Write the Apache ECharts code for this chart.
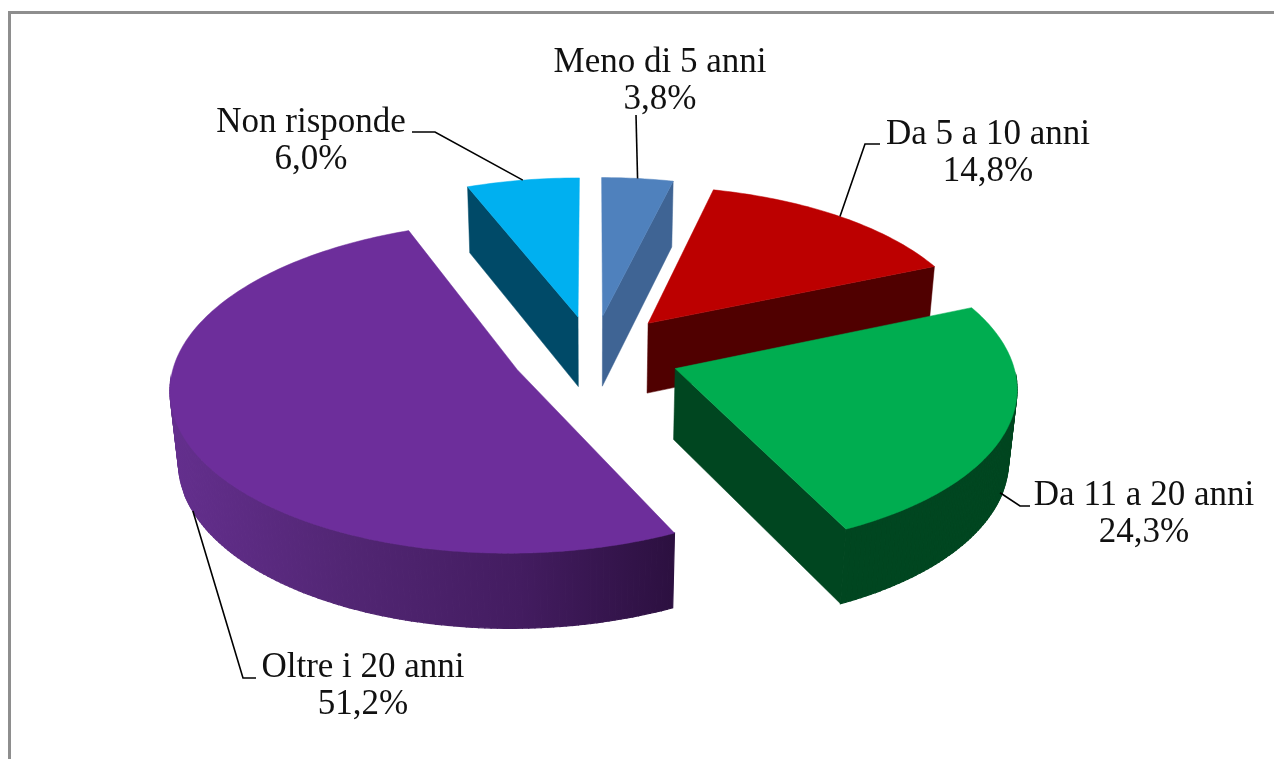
<!DOCTYPE html>
<html><head><meta charset="utf-8">
<style>html,body{margin:0;padding:0;background:#fff}#c{width:1274px;height:759px}</style>
<script src="https://cdn.jsdelivr.net/npm/echarts@6/dist/echarts.min.js"></script>
</head><body><div id="c"></div>
<script>
// Data, clockwise from 12 o'clock
const categories = ['Meno di 5 anni','Da 5 a 10 anni','Da 11 a 20 anni','Oltre i 20 anni','Non risponde'];
const values = [3.8,14.8,24.3,51.2,6.0];
const valueLabels = ['3,8%','14,8%','24,3%','51,2%','6,0%'];

// Styling
const topColors = ['#4f81bd','#bc0000','#00ad50','#6d2e9b','#00b0f0'];
const cutColors = ['#3f6494','#500000','#004620','#2c1040','#004a68'];
const paintOrder = [4,0,1,3,2];
const visibleCut = ['end','end','end',null,'start'];

// Layout: projection of the tilted, exploded disc
const P = {cx:593, cy:354, rx:341, ry:160.9, k:0.1045, m:0.02, h:72};
const explodeBy = [0.24,0.255,0.255,0.24,0.24];
const radiusBy = [1,0.975,0.985,1,1];
const FONT = '"Liberation Serif", serif', FS = 35;
const labelAt = [[660,45],[988,117],[1144,478],[363,650],[311,105]];
const leaderDepth = [0,0,0.9,1,0];
const leaderElbows = [[[636,115]],[[865,144],[880,144]],[[1020,506],[1030,506]],[[243,678],[256,678]],[[435,132],[412,132]]];

const total = values.reduce((a,b)=>a+b,0);
const starts = []; values.reduce((a,v,i)=>{starts[i]=a/total*2*Math.PI;return a+v;},0);

function proj(X,Y,z){
  const w = 1 + P.k*Y + P.m*z;
  return [P.cx + P.rx*X/w, P.cy - (P.ry*Y - P.h*z)/w];
}
function renderItem(params, api){
  const i = params.dataIndex, v = api.value(0);
  const a0 = starts[i], a1 = a0 + v/total*2*Math.PI, mid = (a0+a1)/2;
  const ox = explodeBy[i]*Math.sin(mid), oy = explodeBy[i]*Math.cos(mid), R = radiusBy[i];
  const pt = (a,z,r=R)=>proj(ox+r*Math.sin(a), oy+r*Math.cos(a), z);
  const n = Math.max(8,Math.ceil((a1-a0)*60));
  const angles = []; for(let j=0;j<=n;j++) angles.push(a0+(a1-a0)*j/n);
  const order = paintOrder.indexOf(i)*10;
  const poly = (points,fill,z2,lw)=>({type:'polygon',shape:{points},style:{fill,stroke:fill,lineWidth:lw||0.5},z2:order+z2});
  const children = [];
  const apexTop = pt(0,0,0), apexBot = pt(0,1,0);
  // visible radial cut face
  if(visibleCut[i]){
    const a = visibleCut[i]==='start' ? a0 : a1;
    children.push(poly([apexTop,pt(a,0),pt(a,1),apexBot],cutColors[i],0));
  }
  // rim: only the part of the arc that faces the viewer
  let rimFill = cutColors[i];
  if(i===3){
    rimFill = new echarts.graphic.LinearGradient(168,0,672,0,[
      {offset:0,color:'#642f8e'},{offset:0.35,color:'#522674'},{offset:0.7,color:'#431c60'},{offset:1,color:'#2c1040'}],true);
  }
  for(let j=0;j<n;j++){
    if(Math.cos(angles[j])>-0.06 && Math.cos(angles[j+1])>-0.06) continue;
    children.push(poly([pt(angles[j],0),pt(angles[j+1],0),pt(angles[j+1],1),pt(angles[j],1)],rimFill,2,1.2));
  }
  // top face
  children.push(poly([apexTop].concat(angles.map(a=>pt(a,0))),topColors[i],3));
  // leader and label
  const anchor = pt(mid,leaderDepth[i]);
  children.push({type:'polyline',shape:{points:[anchor].concat(leaderElbows[i])},style:{stroke:'#000',lineWidth:1.6,fill:null},z2:100});
  children.push({type:'text',style:{x:labelAt[i][0],y:labelAt[i][1],text:categories[i]+'\n'+valueLabels[i],
    font:FS+'px '+FONT,fill:'#111',align:'center',verticalAlign:'top',lineHeight:36.5},z2:101});
  return {type:'group',children};
}
const chart = echarts.init(document.getElementById('c'),null,{renderer:'canvas'});
chart.setOption({
  animation:false,
  backgroundColor:'#fff',
  graphic:[
    {type:'line',shape:{x1:9,y1:12.5,x2:1274,y2:12.5},style:{stroke:'#8e8e8e',lineWidth:3}},
    {type:'line',shape:{x1:9.5,y1:11,x2:9.5,y2:759},style:{stroke:'#8e8e8e',lineWidth:3}}
  ],
  series:[{type:'custom',coordinateSystem:'none',renderItem,silent:true,
    data:values.map((v,i)=>({name:categories[i],value:[v]}))}]
});
</script></body></html>
